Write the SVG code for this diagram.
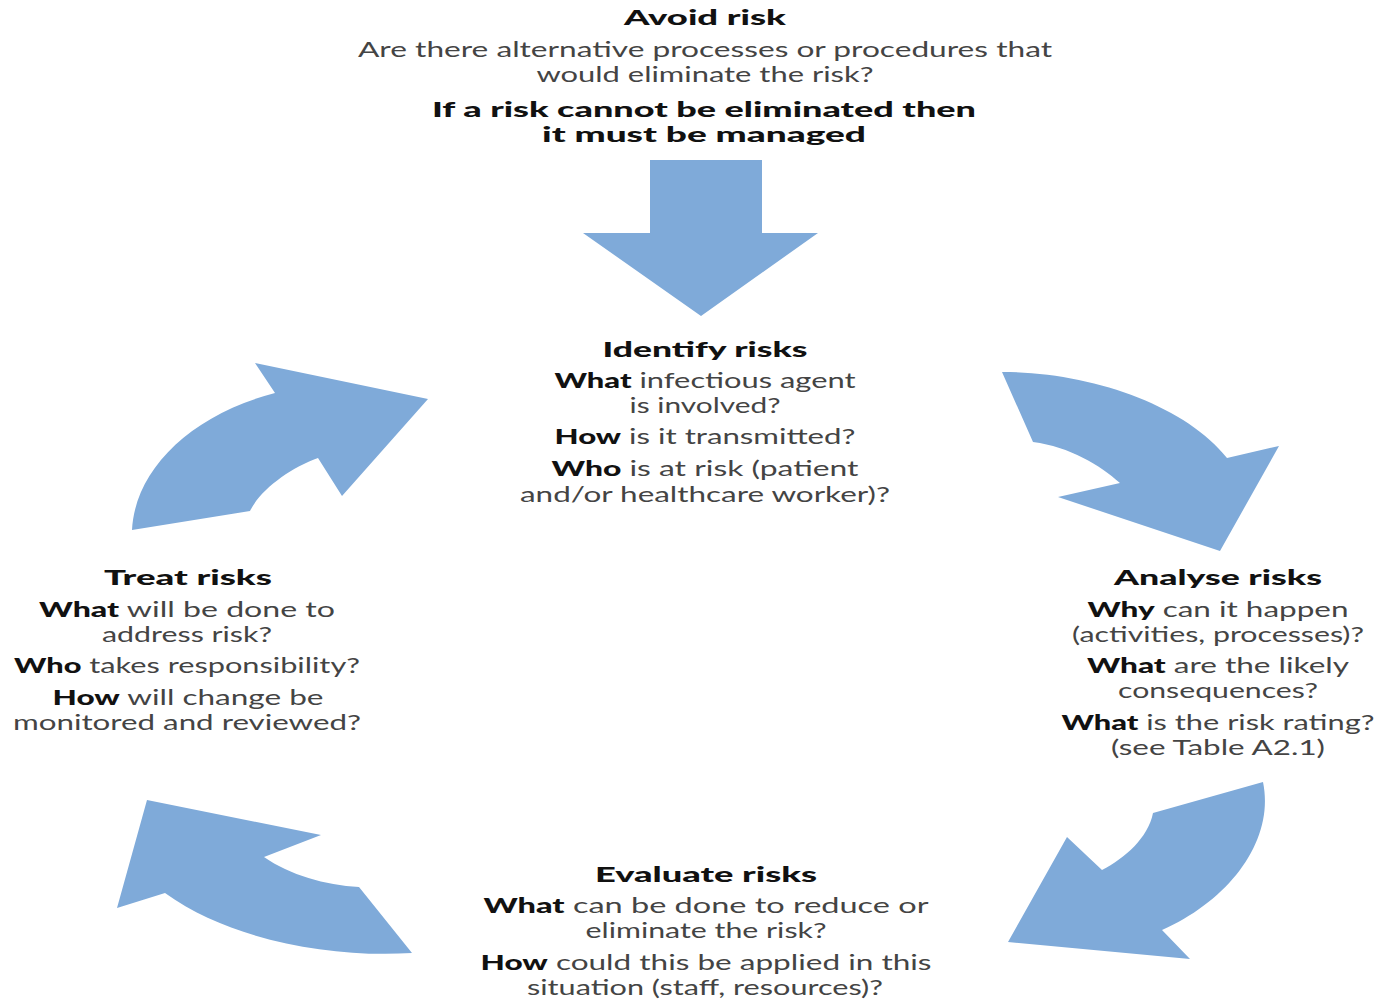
<svg xmlns="http://www.w3.org/2000/svg" width="1381" height="999" viewBox="0 0 1381 999">
<style>
text{font-family:"Lato","Liberation Sans",sans-serif;font-size:21px;text-anchor:middle;fill:#444;}
.h{font-weight:900;fill:#111;}
.b{font-weight:900;fill:#111;}
.arrow{fill:#7faad9;stroke:none;}
</style>
<rect width="1381" height="999" fill="#fff"/>
<g id="connectors">
<path id="arrow-down" class="arrow" d="M650,160 L762,160 L762,233 L818,233 L701,316 L583,233 L650,233 Z"/>
<path id="arrow-identify-analyse" class="arrow" d="M1002,372 C1090,372 1185,405 1227,458 L1279,446 L1220,551 L1058,497 L1120,483 C1100,465 1070,447 1033,442 Z"/>
<path id="arrow-analyse-evaluate" class="arrow" d="M1263,782 C1275,840 1230,900 1162,930 L1190,959 L1008,942 L1067,837 L1102,870 C1125,858 1148,838 1153,813 Z"/>
<path id="arrow-evaluate-treat" class="arrow" d="M412,953 C330,958 230,940 165,893 L117,908 L147,800 L321,835 L264,857 C290,875 325,885 359,887 Z"/>
<path id="arrow-treat-identify" class="arrow" d="M132,530 C135,470 190,415 275,393 L255,363 L428,399 L342,496 L318,458 C290,468 260,490 250,511 Z"/>
</g>
<g id="avoid">
<text class="h" x="705" y="25" textLength="162" lengthAdjust="spacingAndGlyphs">Avoid risk</text>
<text x="705" y="57" textLength="694" lengthAdjust="spacingAndGlyphs">Are there alternative processes or procedures that</text>
<text x="705" y="82" textLength="337" lengthAdjust="spacingAndGlyphs">would eliminate the risk?</text>
<text class="h" x="704" y="117" textLength="544" lengthAdjust="spacingAndGlyphs">If a risk cannot be eliminated then</text>
<text class="h" x="704" y="142" textLength="324" lengthAdjust="spacingAndGlyphs">it must be managed</text>
</g>
<g id="identify">
<text class="h" x="705" y="357" textLength="205" lengthAdjust="spacingAndGlyphs">Identify risks</text>
<text x="705" y="388" textLength="301" lengthAdjust="spacingAndGlyphs"><tspan class="b">What</tspan> infectious agent</text>
<text x="705" y="413" textLength="151" lengthAdjust="spacingAndGlyphs">is involved?</text>
<text x="705" y="444" textLength="301" lengthAdjust="spacingAndGlyphs"><tspan class="b">How</tspan> is it transmitted?</text>
<text x="705" y="476" textLength="307" lengthAdjust="spacingAndGlyphs"><tspan class="b">Who</tspan> is at risk (patient</text>
<text x="705" y="502" textLength="370" lengthAdjust="spacingAndGlyphs">and/or healthcare worker)?</text>
</g>
<g id="treat">
<text class="h" x="188" y="585" textLength="168" lengthAdjust="spacingAndGlyphs">Treat risks</text>
<text x="187" y="617" textLength="296" lengthAdjust="spacingAndGlyphs"><tspan class="b">What</tspan> will be done to</text>
<text x="187" y="642" textLength="170" lengthAdjust="spacingAndGlyphs">address risk?</text>
<text x="187" y="673" textLength="346" lengthAdjust="spacingAndGlyphs"><tspan class="b">Who</tspan> takes responsibility?</text>
<text x="188" y="705" textLength="271" lengthAdjust="spacingAndGlyphs"><tspan class="b">How</tspan> will change be</text>
<text x="187" y="730" textLength="348" lengthAdjust="spacingAndGlyphs">monitored and reviewed?</text>
</g>
<g id="analyse">
<text class="h" x="1218" y="585" textLength="208" lengthAdjust="spacingAndGlyphs">Analyse risks</text>
<text x="1218" y="617" textLength="261" lengthAdjust="spacingAndGlyphs"><tspan class="b">Why</tspan> can it happen</text>
<text x="1218" y="642" textLength="292" lengthAdjust="spacingAndGlyphs">(activities, processes)?</text>
<text x="1218" y="673" textLength="262" lengthAdjust="spacingAndGlyphs"><tspan class="b">What</tspan> are the likely</text>
<text x="1218" y="698" textLength="200" lengthAdjust="spacingAndGlyphs">consequences?</text>
<text x="1218" y="730" textLength="313" lengthAdjust="spacingAndGlyphs"><tspan class="b">What</tspan> is the risk rating?</text>
<text x="1218" y="755" textLength="214" lengthAdjust="spacingAndGlyphs">(see Table A2.1)</text>
</g>
<g id="evaluate">
<text class="h" x="706" y="882" textLength="222" lengthAdjust="spacingAndGlyphs">Evaluate risks</text>
<text x="706" y="913" textLength="445" lengthAdjust="spacingAndGlyphs"><tspan class="b">What</tspan> can be done to reduce or</text>
<text x="706" y="938" textLength="241" lengthAdjust="spacingAndGlyphs">eliminate the risk?</text>
<text x="706" y="970" textLength="451" lengthAdjust="spacingAndGlyphs"><tspan class="b">How</tspan> could this be applied in this</text>
<text x="705" y="995" textLength="356" lengthAdjust="spacingAndGlyphs">situation (staff, resources)?</text>
</g>
</svg>
